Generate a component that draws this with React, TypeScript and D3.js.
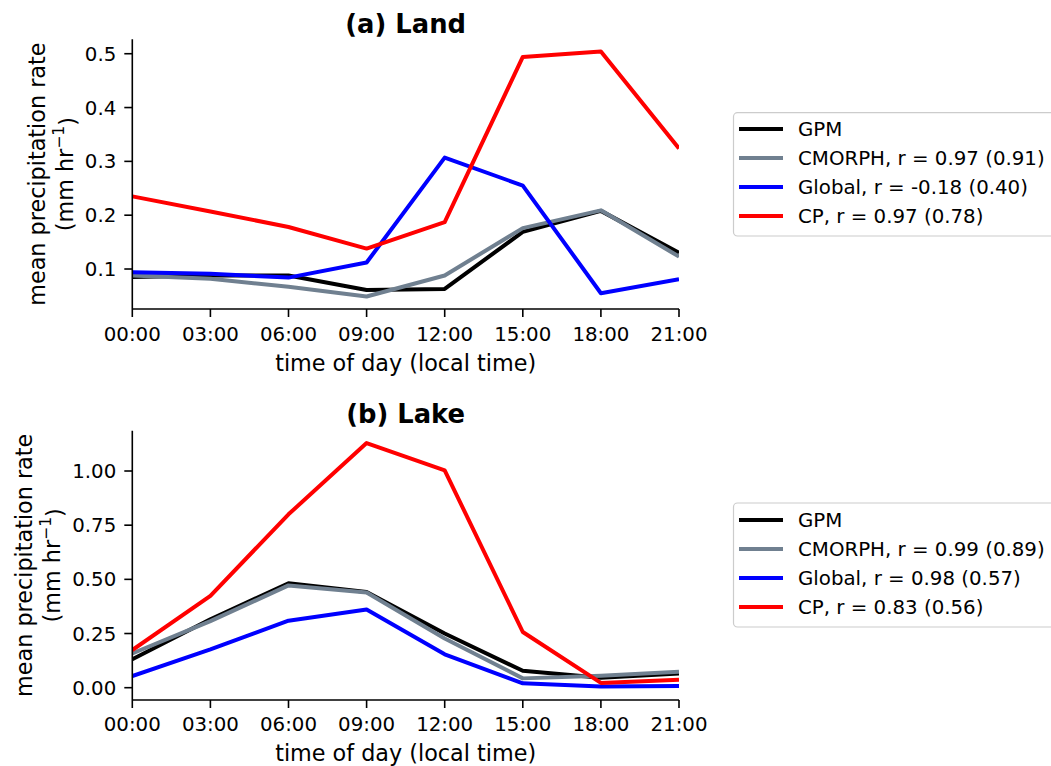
import React from "react";
import * as d3 from "d3";

const hours = [0, 3, 6, 9, 12, 15, 18, 21];
const tickLabels = ["00:00", "03:00", "06:00", "09:00", "12:00", "15:00", "18:00", "21:00"];

const landGPM = [0.085, 0.088, 0.088, 0.061, 0.063, 0.169, 0.208, 0.130];
const landCMORPH = [0.088, 0.082, 0.067, 0.049, 0.088, 0.176, 0.209, 0.123];
const landGlobal = [0.094, 0.091, 0.084, 0.112, 0.307, 0.255, 0.055, 0.081];
const landCP = [0.235, 0.207, 0.178, 0.138, 0.187, 0.494, 0.504, 0.324];

const lakeGPM = [0.131, 0.316, 0.482, 0.442, 0.250, 0.078, 0.046, 0.066];
const lakeCMORPH = [0.158, 0.307, 0.472, 0.439, 0.227, 0.043, 0.055, 0.074];
const lakeGlobal = [0.054, 0.177, 0.309, 0.361, 0.154, 0.020, 0.005, 0.008];
const lakeCP = [0.174, 0.424, 0.80, 1.129, 1.003, 0.257, 0.022, 0.037];

const landLegend = ["GPM", "CMORPH, r = 0.97 (0.91)", "Global, r = -0.18 (0.40)", "CP, r = 0.97 (0.78)"];
const lakeLegend = ["GPM", "CMORPH, r = 0.99 (0.89)", "Global, r = 0.98 (0.57)", "CP, r = 0.83 (0.56)"];

const landTicks = [0.1, 0.2, 0.3, 0.4, 0.5];
const lakeTicks = [0.0, 0.25, 0.5, 0.75, 1.0];

const colors = ["#000000", "#708090", "#0000ff", "#ff0000"];
const FONT = "DejaVu Sans, sans-serif";
const FS = 19.8;
const LFS = 22.3;

type PanelProps = {
  title: string;
  series: number[][];
  legend: string[];
  yTicks: number[];
  yFmt: (v: number) => string;
  yDomain: [number, number];
  top: number;
  bottom: number;
  titleY: number;
  tickLabelY: number;
  xLabelY: number;
  yLabelX1: number;
  yLabelX2: number;
  legendTop: number;
  legendBottom: number;
  legendRows: number[];
};

const X0 = 132.3;
const X1 = 679;

function Panel(p: PanelProps) {
  const x = d3.scaleLinear().domain([0, 21]).range([X0, X1]);
  const y = d3.scaleLinear().domain(p.yDomain).range([p.bottom, p.top]);
  const line = d3
    .line<number>()
    .x((_, i) => x(hours[i]))
    .y((d) => y(d));
  const yMid = (p.top + p.bottom) / 2;
  const cid = "clip" + p.title.replace(/\W/g, "");
  return (
    <g>
      <text x={(X0 + X1) / 2} y={p.titleY} textAnchor="middle" fontFamily={FONT} fontWeight="bold" fontSize={25.8}>
        {p.title}
      </text>
      <defs>
        <clipPath id={cid}>
          <rect x={X0} y={p.top} width={X1 - X0} height={p.bottom - p.top} />
        </clipPath>
      </defs>
      <g clipPath={`url(#${cid})`}>
        {p.series.map((s, i) => (
          <path key={i} d={line(s) || ""} fill="none" stroke={colors[i]} strokeWidth={4} strokeLinejoin="round" />
        ))}
      </g>
      <line x1={X0} x2={X0} y1={p.top} y2={p.bottom} stroke="#000" strokeWidth={1.6} />
      <line x1={X0} x2={X1} y1={p.bottom} y2={p.bottom} stroke="#000" strokeWidth={1.6} />
      {p.yTicks.map((t) => (
        <g key={t}>
          <line x1={X0 - 8} x2={X0} y1={y(t)} y2={y(t)} stroke="#000" strokeWidth={1.6} />
          <text x={X0 - 16} y={y(t)} dy="0.36em" textAnchor="end" fontFamily={FONT} fontSize={FS}>
            {p.yFmt(t)}
          </text>
        </g>
      ))}
      {hours.map((h, i) => (
        <g key={h}>
          <line x1={x(h)} x2={x(h)} y1={p.bottom} y2={p.bottom + 8} stroke="#000" strokeWidth={1.6} />
          <text x={x(h)} y={p.tickLabelY} textAnchor="middle" fontFamily={FONT} fontSize={FS}>
            {tickLabels[i]}
          </text>
        </g>
      ))}
      <text x={(X0 + X1) / 2} y={p.xLabelY} textAnchor="middle" fontFamily={FONT} fontSize={LFS}>
        time of day (local time)
      </text>
      <text transform={`translate(${p.yLabelX1},${yMid}) rotate(-90)`} textAnchor="middle" dominantBaseline="central" fontFamily={FONT} fontSize={LFS}>
        mean precipitation rate
      </text>
      <text transform={`translate(${p.yLabelX2},${yMid}) rotate(-90)`} textAnchor="middle" dominantBaseline="central" fontFamily={FONT} fontSize={LFS}>
        (mm hr<tspan dy="-0.4em" fontSize={LFS * 0.7}>−1</tspan><tspan dy="0.4em">)</tspan>
      </text>
      <rect x={733.5} y={p.legendTop} width={330} height={p.legendBottom - p.legendTop} rx={4} fill="#fff" fillOpacity={0.8} stroke="#cccccc" strokeWidth={1.2} />
      {p.legend.map((lab, i) => (
        <g key={lab}>
          <line x1={739} x2={783} y1={p.legendRows[i]} y2={p.legendRows[i]} stroke={colors[i]} strokeWidth={4} />
          <text x={798} y={p.legendRows[i]} dy="0.36em" fontFamily={FONT} fontSize={FS}>
            {lab}
          </text>
        </g>
      ))}
    </g>
  );
}

export default function App() {
  return (
    <svg width={1051} height={766} style={{ position: "absolute", left: 0, top: 0, background: "#fff" }}>
      <rect x={0} y={0} width={1051} height={766} fill="#fff" />
      <Panel
        title="(a) Land"
        series={[landGPM, landCMORPH, landGlobal, landCP]}
        legend={landLegend}
        yTicks={landTicks}
        yFmt={(v) => d3.format(".1f")(v)}
        yDomain={[0.0257, 0.5268]}
        top={39.3}
        bottom={309}
        titleY={32.5}
        tickLabelY={341}
        xLabelY={371}
        yLabelX1={37}
        yLabelX2={65}
        legendTop={112.7}
        legendBottom={236}
        legendRows={[129, 158, 187, 216]}
      />
      <Panel
        title="(b) Lake"
        series={[lakeGPM, lakeCMORPH, lakeGlobal, lakeCP]}
        legend={lakeLegend}
        yTicks={lakeTicks}
        yFmt={(v) => d3.format(".2f")(v)}
        yDomain={[-0.0568, 1.186]}
        top={430.7}
        bottom={700}
        titleY={423.3}
        tickLabelY={731}
        xLabelY={760.7}
        yLabelX1={24}
        yLabelX2={52}
        legendTop={503}
        legendBottom={627}
        legendRows={[520, 549, 578, 607]}
      />
    </svg>
  );
}
